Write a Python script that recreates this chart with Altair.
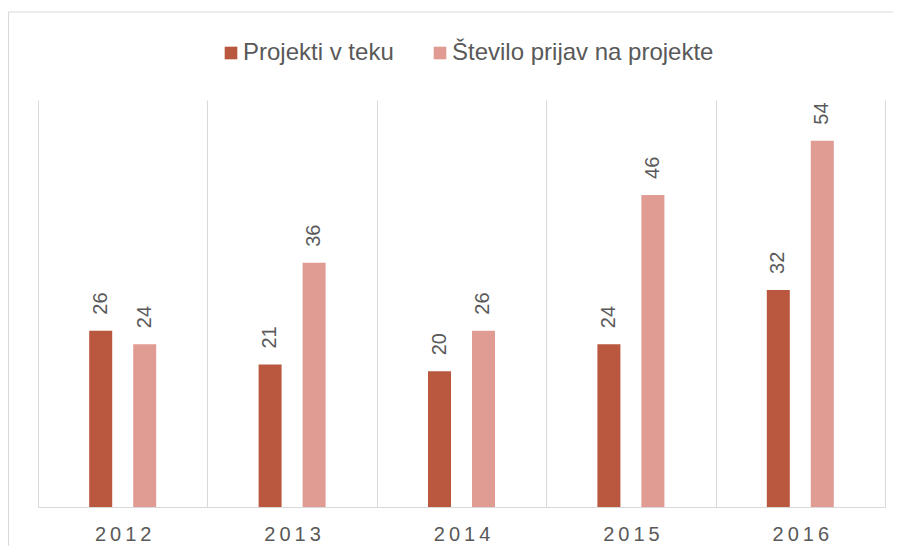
import altair as alt
import pandas as pd

years = ["2012", "2013", "2014", "2015", "2016"]
series_names = ["Projekti v teku", "Število prijav na projekte"]
projekti = [26, 21, 20, 24, 32]
prijave = [24, 36, 26, 46, 54]
colors = ["#B9583F", "#E09B92"]


def spaced(y):
    return "\u2009".join(y)


rows = []
for i, yr in enumerate(years):
    rows.append({"year": spaced(yr), "series": series_names[0], "value": projekti[i]})
    rows.append({"year": spaced(yr), "series": series_names[1], "value": prijave[i]})
df = pd.DataFrame(rows)
year_order = [spaced(yr) for yr in years]

FONT = "Liberation Sans"
GRID = "#d9d9d9"
TXT = "#595959"

x = alt.X(
    "year:N",
    sort=year_order,
    scale=alt.Scale(paddingInner=0, paddingOuter=0),
    axis=alt.Axis(
        title=None, tickBand="extent", grid=True, gridColor=GRID, ticks=False,
        domainColor=GRID, labelFont=FONT, labelFontSize=20, labelColor=TXT,
        labelPadding=17, labelAngle=0,
    ),
)
xo = alt.XOffset(
    "series:N",
    sort=series_names,
    scale=alt.Scale(domain=series_names, range=[51.2, 118.2], paddingInner=0.477, paddingOuter=0),
)
y = alt.Y("value:Q", scale=alt.Scale(domain=[0, 60]), axis=None)

bars = alt.Chart(df).mark_bar().encode(
    x=x,
    xOffset=xo,
    y=y,
    color=alt.Color(
        "series:N",
        sort=series_names,
        scale=alt.Scale(domain=series_names, range=colors),
        legend=alt.Legend(
            title=None, orient="none", legendX=181, legendY=-59,
            direction="horizontal", symbolType="square", symbolSize=160,
            symbolStrokeWidth=0, labelFont=FONT, labelFontSize=24,
            labelColor=TXT, labelOffset=0, columnPadding=34, padding=0,
            labelLimit=400,
        ),
    ),
)

labels = alt.Chart(df).mark_text(
    angle=270, align="left", baseline="middle", dx=16,
    font=FONT, fontSize=20, color=TXT,
).encode(x=x, xOffset=xo, y=y, text="value:Q")

one = pd.DataFrame({"k": [0]})
border_left = alt.Chart(one).mark_rule(stroke=GRID, strokeWidth=1).encode(
    x=alt.value(-29.5), y=alt.value(-88), y2=alt.value(700)
)
border_top = alt.Chart(one).mark_rule(stroke=GRID, strokeWidth=1).encode(
    x=alt.value(-29.5), x2=alt.value(900), y=alt.value(-88)
)

chart = alt.layer(border_left, border_top, bars, labels).properties(
    width=847,
    height=407,
    padding={"left": 30, "top": 92, "right": 8, "bottom": 39},
    autosize=alt.AutoSizeParams(type="none"),
).configure_view(stroke=None)

chart.save("out.html", embed_options={"renderer": "svg", "actions": False})
